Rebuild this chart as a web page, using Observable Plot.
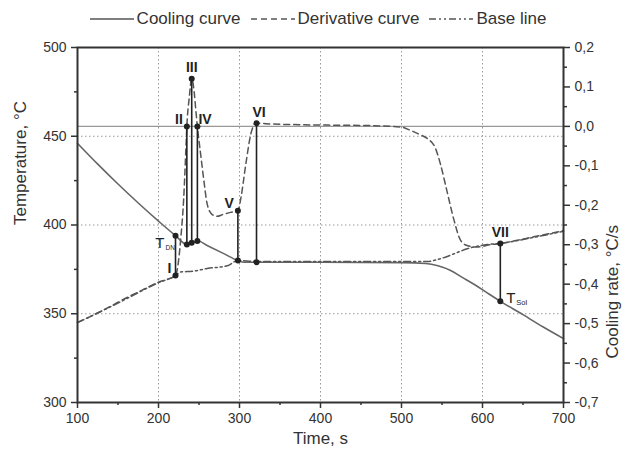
<!DOCTYPE html>
<html><head><meta charset="utf-8">
<script src="https://cdn.jsdelivr.net/npm/d3@7"></script>
<script src="https://cdn.jsdelivr.net/npm/@observablehq/plot@0.6"></script>
<style>
body{margin:0;background:#fff;font-family:"Liberation Sans",Arial,sans-serif;}
#legend{height:38px;display:flex;align-items:center;justify-content:center;font-size:17px;color:#333;padding-left:10px;box-sizing:border-box;}
#legend .item{display:flex;align-items:center;margin:0 5px;}
#legend svg{margin-right:3px;}
</style></head><body>
<div id="legend"></div><div id="chart"></div>
<script>
// Cooling curve (Temperature, °C)
const coolTime = [100,125,150,175,200,221,235,242,249,260,280,298,306,322,400,500,530,545,560,575,590,605,622,650,675,700];
const coolTemp = [446,434.3,423.1,412.4,402.2,394,389,390,391,388.5,384,380,379,379,379,378.8,378.3,377,374.5,370.5,366.5,362,357,349.5,342.5,336];
// Derivative curve (Cooling rate, °C/s)
const derTime = [100,120,140,160,180,200,210,221,228,231,234,235,238,241,244,246,248,252,256,260,266,272,280,289,298,302,308,314,320,340,380,420,460,500,511,522,532,542,548,556,565,573,581,593,610,622,640,663,680,700];
const derRate = [-0.497,-0.478,-0.457,-0.435,-0.415,-0.395,-0.388,-0.378,-0.272,-0.187,-0.048,0.0,0.074,0.121,0.088,0.043,0.0,-0.07,-0.137,-0.196,-0.223,-0.228,-0.223,-0.218,-0.214,-0.178,-0.093,-0.019,0.008,0.006,0.004,0.003,0.002,-0.002,-0.01,-0.02,-0.031,-0.056,-0.095,-0.163,-0.239,-0.289,-0.302,-0.306,-0.3,-0.297,-0.29,-0.28,-0.273,-0.264];
// Base line (Temperature scale, °C)
const baseTime = [100,150,200,221,227,243,260,285,298,320,400,500,532,548,565,581,606,622,663,700];
const baseTemp = [345,356,367.5,371.5,373.5,374,375.5,377,380,379.5,379.5,379.5,379.5,381,383.8,386.6,389,389.7,393,396.5];
// Characteristic points: time, cooling-curve temperature, derivative rate
const markTime = [221,235,241,248,298,321,622];
const markTemp = [394,389,390,391,380,379,357];
const markRate = [-0.378,0.0,0.121,0.0,-0.214,0.008,-0.297];
const markLabel = ["I","II","III","IV","V","VI","VII"];
const tempLabel = ["DN","","","","","","Sol"];
// Axis ticks
const timeTicks = [100,200,300,400,500,600,700];
const timeMinor = [150,250,350,450,550,650];
const tempTicks = [300,350,400,450,500];
const tempMinor = [325,375,425,475];
const rateTicks = [-0.7,-0.6,-0.5,-0.4,-0.3,-0.2,-0.1,0.0,0.1,0.2];
const rateMinor = [-0.65,-0.55,-0.45,-0.35,-0.25,-0.15,-0.05,0.05,0.15];

const toT = r => 300 + (r + 0.7) * 200 / 0.9;
const fromT = t => (t - 300) * 0.9 / 200 - 0.7;
const fmtRate = t => (Math.round(fromT(t) * 10) / 10).toFixed(1).replace(".", ",");

const cool = coolTime.map((t, i) => ({t, v: coolTemp[i]}));
const der = derTime.map((t, i) => ({t, v: toT(derRate[i])}));
const base = baseTime.map((t, i) => ({t, v: baseTemp[i]}));
const marks = markTime.map((t, i) => ({t, low: markTemp[i], high: toT(markRate[i]), lab: markLabel[i], sub: tempLabel[i]}));

// Legend
const legendItems = [
  {name: "Cooling curve", dash: null},
  {name: "Derivative curve", dash: "6,4"},
  {name: "Base line", dash: "7,3,2,3,2,3"}
];
const lg = document.getElementById("legend");
for (const it of legendItems) {
  const d = document.createElement("div"); d.className = "item";
  d.innerHTML = `<svg width="44" height="10"><line x1="0" y1="5" x2="44" y2="5" stroke="#555" stroke-width="1.5" ${it.dash ? `stroke-dasharray="${it.dash}"` : ""}/></svg><span>${it.name}</span>`;
  lg.appendChild(d);
}

const labelFont = {fontFamily: "Liberation Sans, Arial, sans-serif", fill: "#222"};
const chart = Plot.plot({
  width: 626, height: 417,
  marginTop: 9, marginBottom: 53, marginLeft: 77, marginRight: 63,
  style: {fontFamily: "Liberation Sans, Arial, sans-serif", color: "#333", background: "#fff"},
  x: {domain: [100, 700]},
  y: {domain: [300, 500]},
  marks: [
    Plot.gridX(timeTicks.slice(1, -1), {stroke: "#999", strokeOpacity: 1, strokeDasharray: "1.5,2.5"}),
    Plot.gridY([350, 400, 450], {stroke: "#999", strokeOpacity: 1, strokeDasharray: "1.5,2.5"}),
    Plot.ruleY([toT(0)], {stroke: "#999", strokeWidth: 1.3}),
    Plot.line(cool, {x: "t", y: "v", stroke: "#666", strokeWidth: 1.6, curve: "monotone-x"}),
    Plot.line(base, {x: "t", y: "v", stroke: "#555", strokeWidth: 1.5, strokeDasharray: "7,3,2,3,2,3", curve: "monotone-x"}),
    Plot.line(der, {x: "t", y: "v", stroke: "#555", strokeWidth: 1.5, strokeDasharray: "6,4", curve: "monotone-x"}),
    Plot.ruleX(marks, {x: "t", y1: "low", y2: "high", stroke: "#222", strokeWidth: 1.6}),
    Plot.dot(marks, {x: "t", y: "low", r: 3, fill: "#222", stroke: "none"}),
    Plot.dot(marks, {x: "t", y: "high", r: 3, fill: "#222", stroke: "none"}),
    // Roman numeral labels
    Plot.text(marks.filter(d => ["I","II","V"].includes(d.lab)), {x: "t", y: "high", text: "lab", textAnchor: "end", dx: -4, dy: -7, fontSize: 14, fontWeight: "bold", ...labelFont}),
    Plot.text(marks.filter(d => ["III","VII"].includes(d.lab)), {x: "t", y: "high", text: "lab", dy: -11, fontSize: 14, fontWeight: "bold", ...labelFont}),
    Plot.text(marks.filter(d => d.lab === "IV"), {x: "t", y: "high", text: "lab", textAnchor: "start", dx: 1, dy: -7, fontSize: 14, fontWeight: "bold", ...labelFont}),
    Plot.text(marks.filter(d => d.lab === "VI"), {x: "t", y: "high", text: "lab", textAnchor: "start", dx: -4, dy: -11, fontSize: 14, fontWeight: "bold", ...labelFont}),
    // T labels
    Plot.text(marks.filter(d => d.sub === "DN"), {x: "t", y: "low", text: () => "T", textAnchor: "end", dx: -11, dy: 8, fontSize: 15, ...labelFont}),
    Plot.text(marks.filter(d => d.sub === "DN"), {x: "t", y: "low", text: "sub", textAnchor: "start", dx: -10, dy: 12, fontSize: 6.5, ...labelFont}),
    Plot.text(marks.filter(d => d.sub === "Sol"), {x: "t", y: "low", text: () => "T", textAnchor: "start", dx: 6, dy: -3, fontSize: 15, ...labelFont}),
    Plot.text(marks.filter(d => d.sub === "Sol"), {x: "t", y: "low", text: "sub", textAnchor: "start", dx: 16, dy: 1, fontSize: 7.5, ...labelFont}),
    // Axes
    Plot.axisX({ticks: timeTicks, tickSize: 6, tickPadding: 5, fontSize: 14, label: null, strokeWidth: 1.5}),
    Plot.axisX({ticks: timeMinor, tickSize: 3, tickFormat: () => "", label: null, strokeWidth: 1.5}),
    Plot.axisY({ticks: tempTicks, tickSize: 6, tickPadding: 5, fontSize: 14, label: null, strokeWidth: 1.5}),
    Plot.axisY({ticks: tempMinor, tickSize: 3, tickFormat: () => "", label: null, strokeWidth: 1.5}),
    Plot.axisY({anchor: "right", ticks: rateTicks.map(toT), tickFormat: fmtRate, tickSize: 6, tickPadding: 5, fontSize: 14, label: null, strokeWidth: 1.5}),
    Plot.axisY({anchor: "right", ticks: rateMinor.map(toT), tickSize: 3, tickFormat: () => "", label: null, strokeWidth: 1.5}),
    Plot.frame({stroke: "#333", strokeWidth: 2}),
    Plot.text(["Time, s"], {frameAnchor: "bottom", dy: 41, fontSize: 17, fill: "#333"}),
    Plot.text(["Temperature, °C"], {frameAnchor: "left", dx: -57, rotate: -90, fontSize: 17, fill: "#333"}),
    Plot.text(["Cooling rate, °C/s"], {frameAnchor: "right", dx: 49, rotate: -90, fontSize: 17, fill: "#333"})
  ]
});
document.getElementById("chart").appendChild(chart);
</script></body></html>
